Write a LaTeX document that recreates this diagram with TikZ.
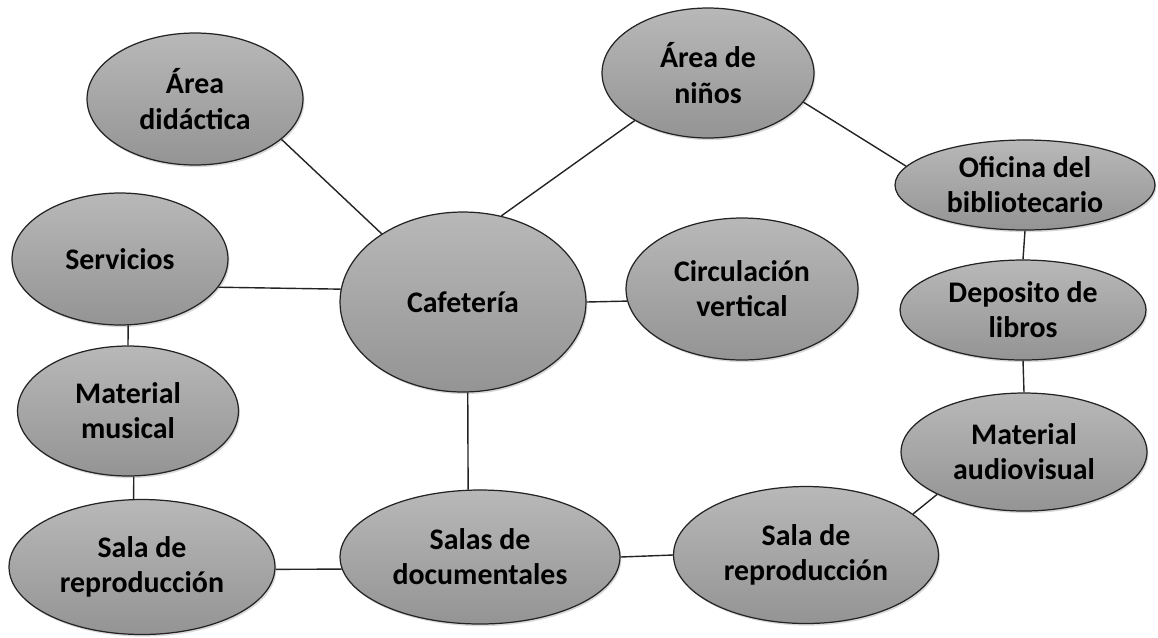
\documentclass[tikz,border=0pt]{standalone}
\usepackage{fontspec}
\setmainfont{Carlito}
\definecolor{bubbletop}{RGB}{184,184,184}
\definecolor{bubblebottom}{RGB}{148,148,148}
\definecolor{bubbleline}{RGB}{35,35,35}
\usetikzlibrary{shapes.geometric,shadows}

\begin{document}
\begin{tikzpicture}[x=0.02cm, y=-0.02cm,
    room/.style={ellipse, draw=bubbleline, line width=0.7pt, inner sep=0pt,
                 top color=bubbletop, bottom color=bubblebottom, align=center,
                 font=\fontsize{17}{20}\selectfont\bfseries,
                 drop shadow={shadow xshift=0.8pt, shadow yshift=-1.2pt, opacity=0.3}},
    link/.style={line width=0.8pt, bubbleline}]

\useasboundingbox (0,0) rectangle (1158,637);

\node[room, minimum width=4.32cm, minimum height=2.64cm] (did) at (195,99) {Área\\didáctica};
\node[room, minimum width=4.24cm, minimum height=2.6cm] (nin) at (708,73) {Área de\\niños};
\node[room, minimum width=5.2cm, minimum height=1.8cm] (ofi) at (1025,185) {Oficina del\\bibliotecario};
\node[room, minimum width=4.32cm, minimum height=2.64cm] (ser) at (120,259) {Servicios};
\node[room, minimum width=4.92cm, minimum height=3.6cm] (caf) at (463,302) {Cafetería};
\node[room, minimum width=4.64cm, minimum height=2.84cm] (cir) at (742,289) {Circulación\\vertical};
\node[room, minimum width=4.92cm, minimum height=2cm] (dep) at (1023,310) {Deposito de\\libros};
\node[room, minimum width=4.42cm, minimum height=2.6cm] (mus) at (128,411) {Material\\musical};
\node[room, minimum width=4.92cm, minimum height=2.36cm] (aud) at (1024,452) {Material\\audiovisual};
\node[room, minimum width=5.32cm, minimum height=2.7cm] (repl) at (142,567) {Sala de\\reproducción};
\node[room, minimum width=5.6cm, minimum height=2.68cm] (sal) at (480,557) {Salas de\\documentales};
\node[room, minimum width=5.3cm, minimum height=2.74cm] (repr) at (806,555) {Sala de\\reproducción};

\draw[link] (did.-25.5) -- (caf.140);
\draw[link] (ser.-16) -- (caf.174);
\draw[link] (caf.66) -- (nin.-147);
\draw[link] (nin.-17) -- (ofi.171.5);
\draw[link] (ofi.south) -- (dep.north);
\draw[link] (caf.east) -- (cir.186);
\draw[link] (caf.-87) -- (sal.100);
\draw[link] (ser.-83) -- (mus.north);
\draw[link] (mus.-85) -- (repl.97);
\draw[link] (repl.-1) -- (sal.185);
\draw[link] (sal.east) -- (repr.west);
\draw[link] (dep.south) -- (aud.north);
\draw[link] (aud.206) -- (repr.21);
\end{tikzpicture}
\end{document}
